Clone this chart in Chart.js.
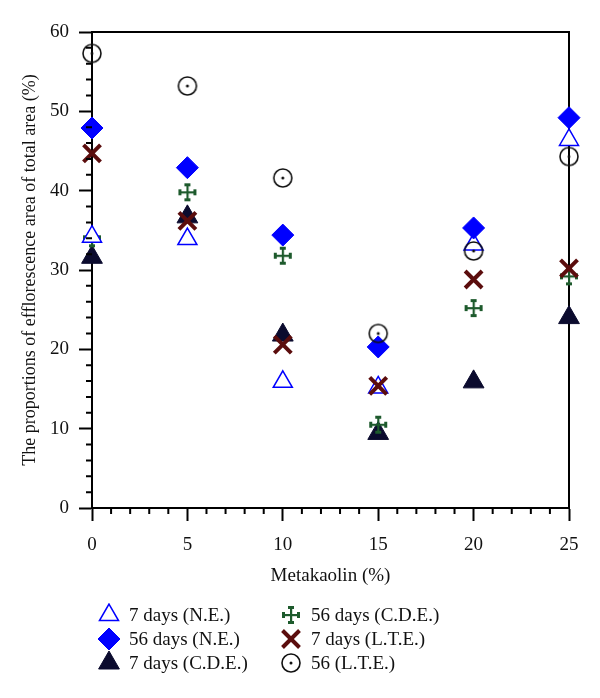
<!DOCTYPE html>
<html>
<head>
<meta charset="utf-8">
<script src="https://cdn.jsdelivr.net/npm/chart.js@4.4.1/dist/chart.umd.min.js"></script>
<style>
  html, body { margin: 0; padding: 0; background: #fff; }
  #wrap { position: relative; width: 600px; height: 698px; }
  #legend {
    position: absolute; left: 96px; top: 603px;
    display: grid; grid-auto-flow: column;
    grid-template-rows: repeat(3, 24px);
    grid-template-columns: 182px 200px;
    font: 19px "Liberation Serif", serif; color: #111;
  }
  .item { display: flex; align-items: center; white-space: nowrap; }
  .item canvas { width: 26px; height: 24px; margin-right: 7px; }
</style>
</head>
<body>
<div id="wrap">
  <canvas id="c" width="600" height="698"></canvas>
  <div id="legend"></div>
</div>
<script>
// values
const metakaolin = [0, 5, 10, 15, 20, 25];
const ne7   = [34.2, 33.9, 15.9, 15.2, 33.2, 46.4];
const ne56  = [47.9, 42.9, 34.4, 20.3, 35.3, 49.2];
const cde7  = [31.6, 36.7, 21.8, 9.4, 15.9, 24.0];
const cde56 = [34.0, 39.8, 31.8, 10.5, 25.2, 29.2];
const lte7  = [44.7, 36.2, 20.6, 15.4, 28.8, 30.2];
const lte56 = [57.3, 53.2, 41.6, 22.0, 32.4, 44.3];

const FONT = '"Liberation Serif", "DejaVu Serif", serif';
const INK = '#111';

function points(ys) {
  return metakaolin.map((x, i) => ({ x: x, y: ys[i] }));
}

// green cross with end caps
function makeCross() {
  const c = document.createElement('canvas');
  c.width = 22; c.height = 22;
  const g = c.getContext('2d');
  g.fillStyle = '#1d5a2c';
  g.fillRect(10, 3, 2.2, 16);
  g.fillRect(3, 10, 16, 2.2);
  g.fillRect(8, 2, 6, 3);
  g.fillRect(8, 17, 6, 3);
  g.fillRect(2, 8, 3, 6);
  g.fillRect(17, 8, 3, 6);
  return c;
}

// circle with a dot in the middle
function makeDotCircle() {
  const c = document.createElement('canvas');
  c.width = 22; c.height = 22;
  const g = c.getContext('2d');
  g.strokeStyle = '#111';
  g.lineWidth = 1.6;
  g.beginPath(); g.arc(11, 11, 9, 0, Math.PI * 2); g.stroke();
  g.fillStyle = '#111';
  g.beginPath(); g.arc(11, 11, 1.5, 0, Math.PI * 2); g.fill();
  return c;
}

const crossImg = makeCross();
const dotImg = makeDotCircle();

const datasets = [
  { label: '7 days (N.E.)', data: points(ne7), pointStyle: 'triangle', pointRadius: 11,
    backgroundColor: '#ffffff', borderColor: '#0000ff', pointBorderWidth: 1.5, order: 3 },
  { label: '56 days (N.E.)', data: points(ne56), pointStyle: 'rectRot', pointRadius: 11,
    backgroundColor: '#0000ff', borderColor: '#0000ff', pointBorderWidth: 1, order: 2 },
  { label: '7 days (C.D.E.)', data: points(cde7), pointStyle: 'triangle', pointRadius: 12,
    backgroundColor: '#0b0b2e', borderColor: '#0b0b2e', pointBorderWidth: 1, order: 5 },
  { label: '56 days (C.D.E.)', data: points(cde56), pointStyle: crossImg, pointRadius: 11,
    backgroundColor: '#1d5a2c', borderColor: '#1d5a2c', order: 4 },
  { label: '7 days (L.T.E.)', data: points(lte7), pointStyle: 'crossRot', pointRadius: 12,
    backgroundColor: '#5b0d0d', borderColor: '#5b0d0d', pointBorderWidth: 4, order: 0 },
  { label: '56 (L.T.E.)', data: points(lte56), pointStyle: dotImg, pointRadius: 10,
    backgroundColor: '#111', borderColor: '#111', order: 1 }
];
datasets.forEach(d => { d.showLine = false; d.clip = false; });

// frame around the plot and the short minor ticks
const frame = {
  id: 'frame',
  beforeDatasetsDraw(chart) {
    const { ctx, chartArea: a } = chart;
    ctx.save();
    ctx.strokeStyle = '#000';
    ctx.lineWidth = 2;
    ctx.strokeRect(a.left, a.top, a.right - a.left, a.bottom - a.top);
    ctx.restore();
  },
  afterDraw(chart) {
    const { ctx, chartArea: a } = chart;
    const xs = chart.scales.x, ys = chart.scales.y;
    ctx.save();
    ctx.strokeStyle = '#000';
    ctx.lineWidth = 2;
    ctx.beginPath();
    xs.ticks.forEach(t => {
      if (t.value % 5 !== 0) {
        const px = xs.getPixelForValue(t.value);
        ctx.moveTo(px, a.bottom); ctx.lineTo(px, a.bottom + 6);
      }
    });
    ys.ticks.forEach(t => {
      if (t.value % 10 !== 0) {
        const py = ys.getPixelForValue(t.value);
        ctx.moveTo(a.left, py); ctx.lineTo(a.left - 6, py);
      }
    });
    ctx.stroke();
    ctx.restore();
  }
};

const chart = new Chart(document.getElementById('c'), {
  type: 'scatter',
  data: { datasets: datasets },
  options: {
    responsive: false,
    animation: false,
    layout: { padding: { left: 0, top: 32, right: 31, bottom: 110 } },
    plugins: { legend: { display: false }, tooltip: { enabled: false } },
    scales: {
      x: {
        type: 'linear', min: 0, max: 25,
        ticks: {
          stepSize: 1, autoSkip: false, maxRotation: 0, padding: 13,
          color: INK, font: { family: FONT, size: 19 },
          callback: v => (v % 5 === 0 ? v : '')
        },
        grid: {
          drawOnChartArea: false, tickLength: 13, tickWidth: 2,
          tickColor: c => (c.tick && c.tick.value % 5 === 0 ? '#000' : 'rgba(0,0,0,0)')
        },
        border: { color: '#000', width: 2 },
        title: { display: true, text: 'Metakaolin (%)', color: INK,
                 font: { family: FONT, size: 19 }, padding: { top: 0, bottom: 1 } },
        afterFit: s => { s.height = 80; }
      },
      y: {
        min: 0, max: 60,
        ticks: {
          stepSize: 2, autoSkip: false, padding: 10,
          color: INK, font: { family: FONT, size: 19 },
          callback: v => (v % 10 === 0 ? v : '')
        },
        grid: {
          drawOnChartArea: false, tickLength: 13, tickWidth: 2,
          tickColor: c => (c.tick && c.tick.value % 10 === 0 ? '#000' : 'rgba(0,0,0,0)')
        },
        border: { color: '#000', width: 2 },
        title: { display: true, text: 'The proportions of efflorescence area of total area (%)',
                 color: INK, font: { family: FONT, size: 18 }, padding: { top: 19, bottom: 0 } },
        afterFit: s => { s.width = 92; }
      }
    }
  },
  plugins: [frame]
});

// two-column legend built from the datasets
const legend = document.getElementById('legend');
chart.data.datasets.forEach(ds => {
  const item = document.createElement('div');
  item.className = 'item';
  const cv = document.createElement('canvas');
  cv.width = 26; cv.height = 24;
  const g = cv.getContext('2d');
  g.fillStyle = ds.backgroundColor;
  g.strokeStyle = ds.borderColor;
  g.lineWidth = ds.pointBorderWidth || 1;
  Chart.helpers.drawPoint(g, {
    pointStyle: ds.pointStyle, rotation: 0,
    radius: ds.pointRadius, borderWidth: ds.pointBorderWidth || 0
  }, 13, 12);
  const span = document.createElement('span');
  span.textContent = ds.label;
  item.appendChild(cv);
  item.appendChild(span);
  legend.appendChild(item);
});
</script>
</body>
</html>
